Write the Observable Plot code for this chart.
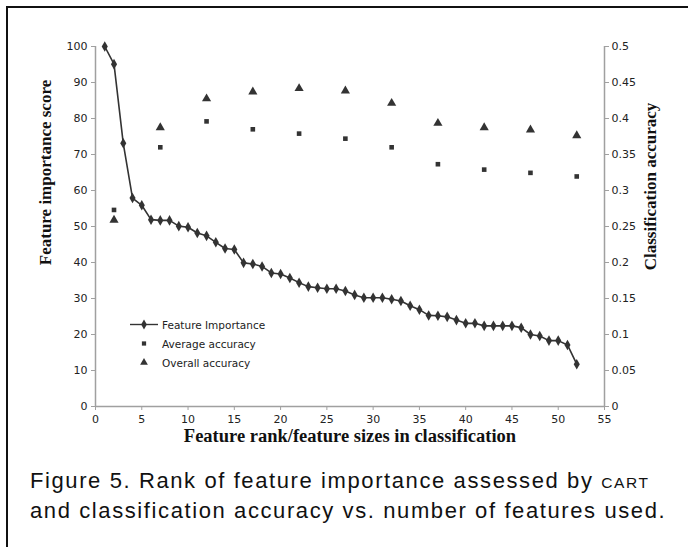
<!DOCTYPE html>
<html>
<head>
<meta charset="utf-8">
<script src="https://cdn.jsdelivr.net/npm/d3@7"></script>
<script src="https://cdn.jsdelivr.net/npm/@observablehq/plot@0.6"></script>
<style>
  html, body { margin: 0; padding: 0; background: #fff; overflow: hidden; }
  #wrap { position: relative; width: 688px; height: 547px; }
  #frame { position: absolute; left: 6px; top: 6px; width: 700px; height: 560px;
           border-left: 2px solid #111; border-top: 2px solid #111; }
  #chart { position: absolute; left: 0; top: 0; }
  #legend { position: absolute; left: 128px; top: 315px; font-family: "DejaVu Sans", sans-serif;
            font-size: 10.5px; color: #222; }
  #legend .row { height: 19px; display: flex; align-items: center; }
  #legend svg { width: 32px; height: 19px; margin-right: 2px; }
  #caption { position: absolute; left: 30px; top: 467px; font-family: "Liberation Sans", Arial, sans-serif;
             font-size: 22px; line-height: 28px; letter-spacing: 1.6px; color: #111; white-space: nowrap; }
  #caption .sc { font-size: 15.5px; }
</style>
</head>
<body>
<div id="wrap">
  <div id="frame"></div>
  <div id="chart"></div>
  <div id="legend"></div>
  <div id="caption">Figure 5. Rank of feature importance assessed by <span class="sc">CART</span><br>and classification accuracy vs. number of features used.</div>
</div>
<script>
// Feature importance score by rank (1..52)
const importance = [100, 95.1, 73.1, 57.9, 55.9, 51.9, 51.7, 51.7, 50.1, 49.8,
  48.2, 47.4, 45.6, 43.9, 43.6, 39.9, 39.6, 38.9, 37.1, 36.8,
  35.7, 34.4, 33.3, 33.0, 32.7, 32.7, 32.1, 31.0, 30.2, 30.2,
  30.2, 29.8, 29.3, 28.0, 26.9, 25.3, 25.2, 24.9, 24.0, 23.1,
  23.1, 22.4, 22.4, 22.4, 22.4, 21.9, 20.0, 19.6, 18.3, 18.3,
  17.1, 11.75];
// Feature set sizes used in classification
const featureSizes = [2, 7, 12, 17, 22, 27, 32, 37, 42, 47, 52];
const averageAccuracy = [0.273, 0.360, 0.396, 0.385, 0.379, 0.372, 0.360, 0.3365, 0.329, 0.3245, 0.3195];
const overallAccuracy = [0.259, 0.3875, 0.4275, 0.437, 0.4417, 0.4384, 0.4213, 0.3935, 0.3875, 0.3843, 0.3764];
// Axis ticks
const xTicks = [0, 5, 10, 15, 20, 25, 30, 35, 40, 45, 50, 55];
const leftTicks = [0, 10, 20, 30, 40, 50, 60, 70, 80, 90, 100];
const rightTicks = [0, 0.05, 0.1, 0.15, 0.2, 0.25, 0.3, 0.35, 0.4, 0.45, 0.5];
const accToScore = 200; // right axis 0..0.5 maps onto left axis 0..100

const impData = importance.map((v, i) => ({rank: i + 1, v}));
const accData = featureSizes.map((n, i) => ({n, avg: averageAccuracy[i], all: overallAccuracy[i]}));

const ink = "#333";
const axisGray = "#a0a0a0";
const titleFont = {fontFamily: "Liberation Serif, serif", fontWeight: "bold", fill: "#111"};

const chart = Plot.plot({
  width: 688,
  height: 455,
  marginLeft: 95,
  marginRight: 84,
  marginTop: 46,
  marginBottom: 49,
  style: {fontFamily: "DejaVu Sans, sans-serif", fontSize: "11px", background: "transparent", color: "#222"},
  x: {domain: [0, 55]},
  y: {domain: [0, 100]},
  marks: [
    Plot.ruleX([0, 55], {stroke: axisGray, strokeWidth: 1.5}),
    Plot.ruleY([0], {stroke: axisGray, strokeWidth: 1.5}),
    Plot.axisX(xTicks, {tickSize: 4, tickPadding: 5, stroke: axisGray, fill: "#222", label: null}),
    Plot.axisY(leftTicks, {anchor: "left", tickSize: 4, tickPadding: 4, stroke: axisGray, fill: "#222", label: null}),
    Plot.axisY(rightTicks.map(t => t * accToScore), {anchor: "right", tickSize: 4, tickPadding: 3, stroke: axisGray, fill: "#222",
      tickFormat: d => String(+(d / accToScore).toFixed(2)), label: null}),
    Plot.line(impData, {x: "rank", y: "v", stroke: ink, strokeWidth: 1.6}),
    Plot.dot(impData, {x: "rank", y: "v", symbol: "diamond", r: 3.2, fill: ink, stroke: "none"}),
    Plot.dot(accData, {x: "n", y: d => d.avg * accToScore, symbol: "square", r: 2.6, fill: ink, stroke: "none"}),
    Plot.dot(accData, {x: "n", y: d => d.all * accToScore, symbol: "triangle", r: 3.4, fill: ink, stroke: "none"}),
    Plot.text(["Feature importance score"], {frameAnchor: "left", textAnchor: "middle", dx: -50, dy: -54, rotate: -90,
      fontSize: 17, ...titleFont}),
    Plot.text(["Classification accuracy"], {frameAnchor: "right", textAnchor: "middle", dx: 46, dy: -40, rotate: -90,
      fontSize: 17, ...titleFont}),
    Plot.text(["Feature rank/feature sizes in classification"], {frameAnchor: "bottom", textAnchor: "middle", dy: 35,
      fontSize: 18.5, ...titleFont})
  ]
});
document.getElementById("chart").appendChild(chart);

// Legend
const legendItems = [
  {label: "Feature Importance", kind: "line"},
  {label: "Average accuracy", kind: "square"},
  {label: "Overall accuracy", kind: "triangle"}
];
const legend = document.getElementById("legend");
for (const item of legendItems) {
  const row = document.createElement("div");
  row.className = "row";
  const s = d3.create("svg");
  const g = s.append("g").attr("transform", "translate(16,9.5)");
  if (item.kind === "line") {
    g.append("line").attr("x1", -14).attr("x2", 14).attr("stroke", ink).attr("stroke-width", 1.4);
    g.append("path").attr("d", d3.symbol(d3.symbolDiamond, 28)()).attr("fill", ink);
  } else if (item.kind === "square") {
    g.append("path").attr("d", d3.symbol(d3.symbolSquare, 18)()).attr("fill", ink);
  } else {
    g.append("path").attr("d", d3.symbol(d3.symbolTriangle, 26)()).attr("fill", ink);
  }
  row.appendChild(s.node());
  const t = document.createElement("span");
  t.textContent = item.label;
  row.appendChild(t);
  legend.appendChild(row);
}
</script>
</body>
</html>
